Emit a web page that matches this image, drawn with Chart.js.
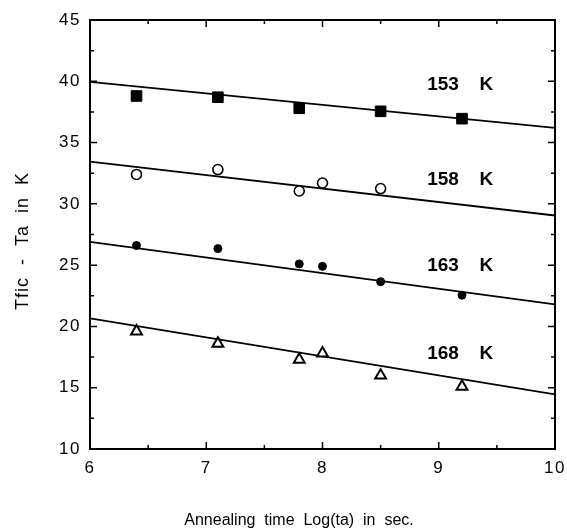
<!DOCTYPE html>
<html lang="en">
<head>
  <meta charset="UTF-8">
  <title>Tfic - Ta vs annealing time</title>
  <script src="https://cdn.jsdelivr.net/npm/chart.js"></script>
  <style>
    html, body { margin: 0; padding: 0; background: #fff; }
    canvas { display: block; }
  </style>
</head>
<body>
  <canvas id="chart" width="567" height="529"></canvas>

  <script>
    // measured points, x = Log(ta), y = Tfic - Ta (K)
    const t153 = [6.4, 7.1, 7.8, 8.5, 9.2];
    const v153 = [38.8, 38.7, 37.8, 37.55, 36.95];
    const t158 = [6.4, 7.1, 7.8, 8.0, 8.5];
    const v158 = [32.4, 32.8, 31.05, 31.7, 31.25];
    const t163 = [6.4, 7.1, 7.8, 8.0, 8.5, 9.2];
    const v163 = [26.6, 26.35, 25.1, 24.9, 23.65, 22.55];
    const t168 = [6.4, 7.1, 7.8, 8.0, 8.5, 9.2];
    const v168 = [19.6, 18.6, 17.3, 17.8, 16.0, 15.1];

    // fitted straight lines, read at both ends of the axis
    const fitX = [6, 10];
    const fit153 = [39.95, 36.2];
    const fit158 = [33.45, 29.05];
    const fit163 = [26.9, 21.8];
    const fit168 = [20.65, 14.45];

    // curve labels
    const curveNames = ['153', '158', '163', '168'];
    const curveLabelY = [39.75, 31.95, 24.95, 17.75];
    const labelNumX = 8.9;
    const labelKX = 9.35;

    const xTicks = [6, 7, 8, 9, 10];
    const yTicks = [10, 15, 20, 25, 30, 35, 40, 45];

    const pts = (xs, ys) => xs.map((x, i) => ({ x: x, y: ys[i] }));

    const marker = (data, style, radius, fill, width) => ({
      data: data,
      showLine: false,
      pointStyle: style,
      pointRadius: radius,
      pointHoverRadius: radius,
      pointBackgroundColor: fill,
      pointBorderColor: '#000',
      pointBorderWidth: width
    });

    const fitLine = (ys) => ({
      data: pts(fitX, ys),
      showLine: true,
      borderColor: '#000',
      borderWidth: 1.8,
      pointRadius: 0,
      order: 1
    });

    // inward ticks, full frame and text annotations
    const frame = {
      id: 'frame',
      beforeDraw(chart) {
        chart.ctx.letterSpacing = '1.5px';
      },
      afterDatasetsDraw(chart) {
        const { ctx, chartArea: a, scales: { x, y } } = chart;
        ctx.save();
        ctx.letterSpacing = '0px';
        ctx.strokeStyle = '#000';
        ctx.lineWidth = 2;
        ctx.strokeRect(a.left, a.top, a.right - a.left, a.bottom - a.top);

        ctx.lineWidth = 1.5;
        ctx.beginPath();
        const xMarks = [];
        xTicks.forEach((v, i) => {
          xMarks.push([v, 7]);
          if (i < xTicks.length - 1) xMarks.push([(v + xTicks[i + 1]) / 2, 4]);
        });
        xMarks.forEach(([v, len]) => {
          const px = x.getPixelForValue(v);
          ctx.moveTo(px, a.bottom); ctx.lineTo(px, a.bottom - len);
          ctx.moveTo(px, a.top); ctx.lineTo(px, a.top + len);
        });
        const yMarks = [];
        yTicks.forEach((v, i) => {
          yMarks.push([v, 7]);
          if (i < yTicks.length - 1) yMarks.push([(v + yTicks[i + 1]) / 2, 4]);
        });
        yMarks.forEach(([v, len]) => {
          const py = y.getPixelForValue(v);
          ctx.moveTo(a.left, py); ctx.lineTo(a.left + len, py);
          ctx.moveTo(a.right, py); ctx.lineTo(a.right - len, py);
        });
        ctx.stroke();

        // curve labels
        ctx.fillStyle = '#000';
        ctx.font = 'bold 19px "Liberation Sans", Arial, sans-serif';
        ctx.textBaseline = 'middle';
        ctx.textAlign = 'left';
        curveNames.forEach((name, i) => {
          const py = y.getPixelForValue(curveLabelY[i]);
          ctx.fillText(name, x.getPixelForValue(labelNumX), py);
          ctx.fillText('K', x.getPixelForValue(labelKX), py);
        });

        // axis titles
        ctx.font = '16px "Liberation Sans", Arial, sans-serif';
        ctx.textBaseline = 'alphabetic';
        ctx.textAlign = 'center';
        ctx.fillText('Annealing  time  Log(ta)  in  sec.', 299, 525);

        ctx.save();
        ctx.translate(28, 241);
        ctx.rotate(-Math.PI / 2);
        ctx.font = '18px "Liberation Sans", Arial, sans-serif';
        ctx.letterSpacing = '1px';
        ctx.fillText('Tfic  -  Ta  in  K', 0, 0);
        ctx.restore();

        ctx.restore();
      }
    };

    const tickFont = { family: '"Liberation Sans", Arial, sans-serif', size: 17 };

    new Chart(document.getElementById('chart'), {
      type: 'scatter',
      data: {
        datasets: [
          marker(pts(t153, v153), 'rect', 7.5, '#000', 1),
          marker(pts(t158, v158), 'circle', 5, '#fff', 1.6),
          marker(pts(t163, v163), 'circle', 4, '#000', 1),
          marker(pts(t168, v168), 'triangle', 6.3, '#fff', 2),
          fitLine(fit153),
          fitLine(fit158),
          fitLine(fit163),
          fitLine(fit168)
        ]
      },
      options: {
        responsive: false,
        animation: false,
        layout: { padding: { top: 20, right: 12, left: 0, bottom: 0 } },
        plugins: {
          legend: { display: false },
          tooltip: { enabled: false }
        },
        scales: {
          x: {
            type: 'linear',
            min: 6,
            max: 10,
            afterFit: (s) => { s.height = 80; s.paddingLeft = 0; s.paddingRight = 0; },
            grid: { display: false, drawTicks: false },
            border: { display: false },
            ticks: { stepSize: 1, color: '#000', font: tickFont, padding: 9 }
          },
          y: {
            min: 10,
            max: 45,
            afterFit: (s) => { s.width = 90; s.paddingTop = 0; s.paddingBottom = 0; },
            grid: { display: false, drawTicks: false },
            border: { display: false },
            ticks: { stepSize: 5, color: '#000', font: tickFont, padding: 9 }
          }
        }
      },
      plugins: [frame]
    });
  </script>
</body>
</html>
